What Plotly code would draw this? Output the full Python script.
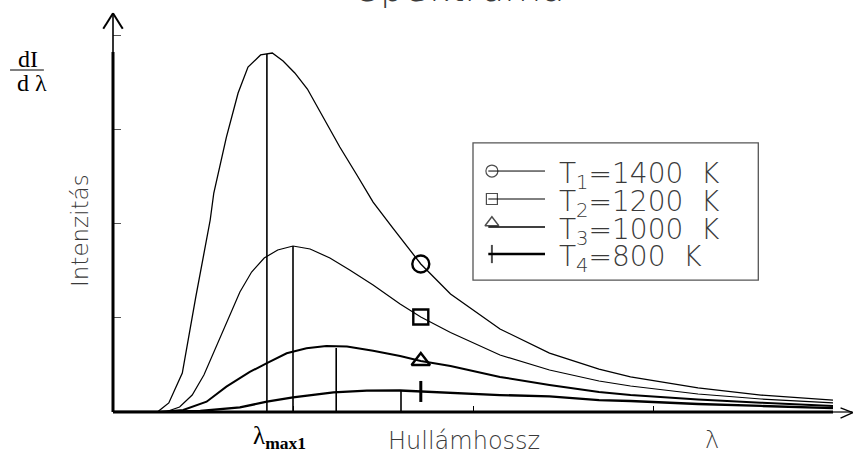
import plotly.graph_objects as go

# Blackbody emission curves, wavelength (um) vs spectral intensity (arb. units)
temps = [1400, 1200, 1000, 800]
subs = ["1", "2", "3", "4"]

lam_t1 = [0, 0.41, 0.5, 0.62, 0.77, 0.92, 1.08, 1.12, 1.26, 1.39, 1.5, 1.64, 1.77, 1.89, 2.02,
          2.16, 2.33, 2.52, 2.71, 2.89, 3.11, 3.42, 3.75, 4.3, 4.85, 5.4, 5.75, 6.5, 7.2, 8.0]
int_t1 = [0, 0, 0.005, 0.096, 0.414, 1.221, 2.038, 2.325, 2.919, 3.386, 3.662, 3.79, 3.811, 3.726,
          3.599, 3.429, 3.132, 2.813, 2.516, 2.229, 1.953, 1.571, 1.253, 0.881, 0.626, 0.456, 0.372,
          0.255, 0.18, 0.127]

lam_t2 = [0, 0.58, 0.74, 0.88, 1.01, 1.14, 1.28, 1.41, 1.54, 1.68, 1.83, 2.0, 2.19, 2.41, 2.63,
          2.89, 3.19, 3.42, 3.75, 4.3, 4.85, 5.4, 5.75, 6.5, 7.2, 8.0]
int_t2 = [0, 0, 0.053, 0.18, 0.393, 0.679, 0.998, 1.274, 1.486, 1.635, 1.72, 1.762, 1.73, 1.635,
          1.507, 1.348, 1.146, 1.008, 0.844, 0.605, 0.446, 0.329, 0.276, 0.191, 0.138, 0.096]

lam_t3 = [0, 0.52, 0.78, 1.04, 1.26, 1.52, 1.71, 1.93, 2.15, 2.37, 2.6, 2.89, 3.19, 3.42, 3.75,
          4.3, 4.85, 5.4, 5.75, 6.5, 7.2, 8.0]
int_t3 = [0, 0, 0.021, 0.109, 0.269, 0.425, 0.52, 0.623, 0.676, 0.701, 0.695, 0.651, 0.594, 0.541,
          0.488, 0.372, 0.287, 0.212, 0.18, 0.134, 0.099, 0.064]

lam_t4 = [0, 0.52, 0.97, 1.41, 1.71, 2.0, 2.45, 2.82, 3.19, 3.42, 3.93, 4.3, 4.85, 5.4, 5.75,
          6.5, 7.2, 8.0]
int_t4 = [0, 0, 0.011, 0.05, 0.109, 0.156, 0.209, 0.226, 0.228, 0.218, 0.191, 0.18, 0.165, 0.127,
          0.117, 0.085, 0.064, 0.042]

# wavelength of maximum emission and the peak intensity for each temperature
peak_lam = [1.71, 2.0, 2.48, 3.2]
peak_int = [3.80, 1.762, 0.679, 0.234]

# wavelength where the curve symbols sit
mark_lam = 3.42

curves = [(lam_t1, int_t1), (lam_t2, int_t2), (lam_t3, int_t3), (lam_t4, int_t4)]
widths = [1.3, 1.2, 2.0, 2.3]
symbols = ["circle-open", "square-open", "triangle-up-open", "line-ns-open"]
sym_size = [17, 15, 16, 15]
sym_lw = [2.4, 2.4, 2.4, 3.0]

fig = go.Figure()

for (xs, ys), w in zip(curves, widths):
    fig.add_trace(go.Scatter(x=xs, y=ys, mode="lines", line=dict(color="black", width=w),
                             hoverinfo="skip", showlegend=False))

# vertical lines at the emission maxima
vx, vy = [], []
for px_, py_ in zip(peak_lam, peak_int):
    vx += [px_, px_, None]
    vy += [0, py_, None]
fig.add_trace(go.Scatter(x=vx, y=vy, mode="lines", line=dict(color="black", width=1.6),
                         hoverinfo="skip", showlegend=False))

# one symbol on each curve
for (xs, ys), sym, sz, lw in zip(curves, symbols, sym_size, sym_lw):
    i = xs.index(mark_lam)
    fig.add_trace(go.Scatter(x=[xs[i]], y=[ys[i]], mode="markers",
                             marker=dict(symbol=sym, size=sz, color="black", line=dict(width=lw)),
                             hoverinfo="skip", showlegend=False, cliponaxis=False))

# hand-drawn key box
box_x0, box_x1, box_y0, box_y1 = 4.0, 7.17, 1.401, 2.856
row_y = [2.558, 2.261, 1.964, 1.677]
key_line_x = (4.17, 4.8)
key_sym_x = 4.21
key_widths = [1.0, 1.0, 1.6, 2.4]
shapes = [dict(type="rect", xref="x", yref="y", x0=box_x0, x1=box_x1, y0=box_y0, y1=box_y1,
               line=dict(color="#555", width=1.3))]
for ry, kw in zip(row_y, key_widths):
    shapes.append(dict(type="line", xref="x", yref="y", x0=key_line_x[0], x1=key_line_x[1],
                       y0=ry, y1=ry, line=dict(color="black", width=kw)))
key_sym_y = [row_y[0], row_y[1], row_y[2] + 0.045, row_y[3]]
fig.add_trace(go.Scatter(x=[key_sym_x] * 4, y=key_sym_y, mode="markers",
                         marker=dict(symbol=symbols, size=[12, 11, 12, 13], color="black",
                                     line=dict(width=[1.2, 1.2, 1.4, 2.0])),
                         hoverinfo="skip", showlegend=False))

sans = "DejaVu Sans"
serif = "Liberation Serif"
text_col = "#3a3a3a"

annotations = []
for t, s, ry in zip(temps, subs, row_y):
    annotations.append(dict(x=4.93, y=ry - 0.05, xref="x", yref="y", xanchor="left",
                            yanchor="middle", showarrow=False,
                            text=f"T<sub>{s}</sub>={t}\u00a0\u00a0K",
                            font=dict(family=sans, size=28, weight=200, color=text_col)))

# axis arrows (paper coordinates: plot area spans x 0..1, y 0..1)
axis_col = "black"
shapes += [
    dict(type="line", xref="paper", yref="paper", x0=0, x1=0, y0=0, y1=0.9,
         line=dict(color=axis_col, width=3)),
    dict(type="line", xref="paper", yref="paper", x0=0, x1=0, y0=0.9, y1=0.997,
         line=dict(color=axis_col, width=1.6)),
    dict(type="line", xref="paper", yref="paper", x0=-0.0135, x1=0, y0=0.958, y1=0.997,
         line=dict(color=axis_col, width=2)),
    dict(type="line", xref="paper", yref="paper", x0=0.0135, x1=0, y0=0.958, y1=0.997,
         line=dict(color=axis_col, width=2)),
    dict(type="line", xref="paper", yref="paper", x0=0, x1=1, y0=0, y1=0,
         line=dict(color=axis_col, width=3)),
    dict(type="line", xref="paper", yref="paper", x0=1, x1=1.027, y0=0, y1=0,
         line=dict(color=axis_col, width=1.2)),
    dict(type="line", xref="paper", yref="paper", x0=1.0105, x1=1.0275, y0=0.0105, y1=-0.0015,
         line=dict(color=axis_col, width=1.4)),
    dict(type="line", xref="paper", yref="paper", x0=1.0105, x1=1.0275, y0=-0.0155, y1=-0.0015,
         line=dict(color=axis_col, width=1.4)),
    # fraction bar of dI/dλ
    dict(type="line", xref="paper", yref="paper", x0=-0.143, x1=-0.096, y0=0.855, y1=0.855,
         line=dict(color="black", width=1.2)),
]

annotations += [
    dict(x=0.483, y=1.0005, xref="paper", yref="paper", xanchor="center", yanchor="bottom",
         showarrow=False, text="Spektruma",
         font=dict(family=sans, size=38, weight=200, color=text_col)),
    dict(x=-0.045, y=0.454, xref="paper", yref="paper", xanchor="center", yanchor="middle",
         showarrow=False, text="Intenzitás", textangle=-90,
         font=dict(family=sans, size=23, weight=200, color=text_col)),
    dict(x=-0.118, y=0.883, xref="paper", yref="paper", xanchor="center", yanchor="middle",
         showarrow=False, text="dI", font=dict(family=serif, size=24, color="black")),
    dict(x=-0.112, y=0.822, xref="paper", yref="paper", xanchor="center", yanchor="middle",
         showarrow=False, text="d λ", font=dict(family=serif, size=24, color="black")),
    dict(x=0.192, y=-0.02, xref="paper", yref="paper", xanchor="left", yanchor="top",
         showarrow=False, text="λ<sub><b>max1</b></sub>",
         font=dict(family=serif, size=25, color="black")),
    dict(x=0.487, y=-0.073, xref="paper", yref="paper", xanchor="center", yanchor="middle",
         showarrow=False, text="Hullámhossz",
         font=dict(family=sans, size=24, weight=200, color=text_col)),
    dict(x=0.832, y=-0.07, xref="paper", yref="paper", xanchor="center", yanchor="middle",
         showarrow=False, text="λ", font=dict(family=sans, size=24, weight=200, color=text_col)),
]

fig.update_layout(
    width=854, height=454,
    margin=dict(l=113, r=21, t=12, b=42, autoexpand=False),
    paper_bgcolor="white", plot_bgcolor="white",
    showlegend=False,
    shapes=shapes, annotations=annotations,
    xaxis=dict(range=[0, 8], showgrid=False, zeroline=False, showline=False,
               tickvals=[2, 4, 6, 8], ticks="inside", ticklen=6, tickwidth=1,
               tickcolor="black", showticklabels=False),
    yaxis=dict(range=[0, 400 / 94.2], showgrid=False, zeroline=False, showline=False,
               tickvals=[1, 2, 3, 4], ticks="inside", ticklen=8, tickwidth=1,
               tickcolor="#555", showticklabels=False),
)

fig.write_html("out.html")
